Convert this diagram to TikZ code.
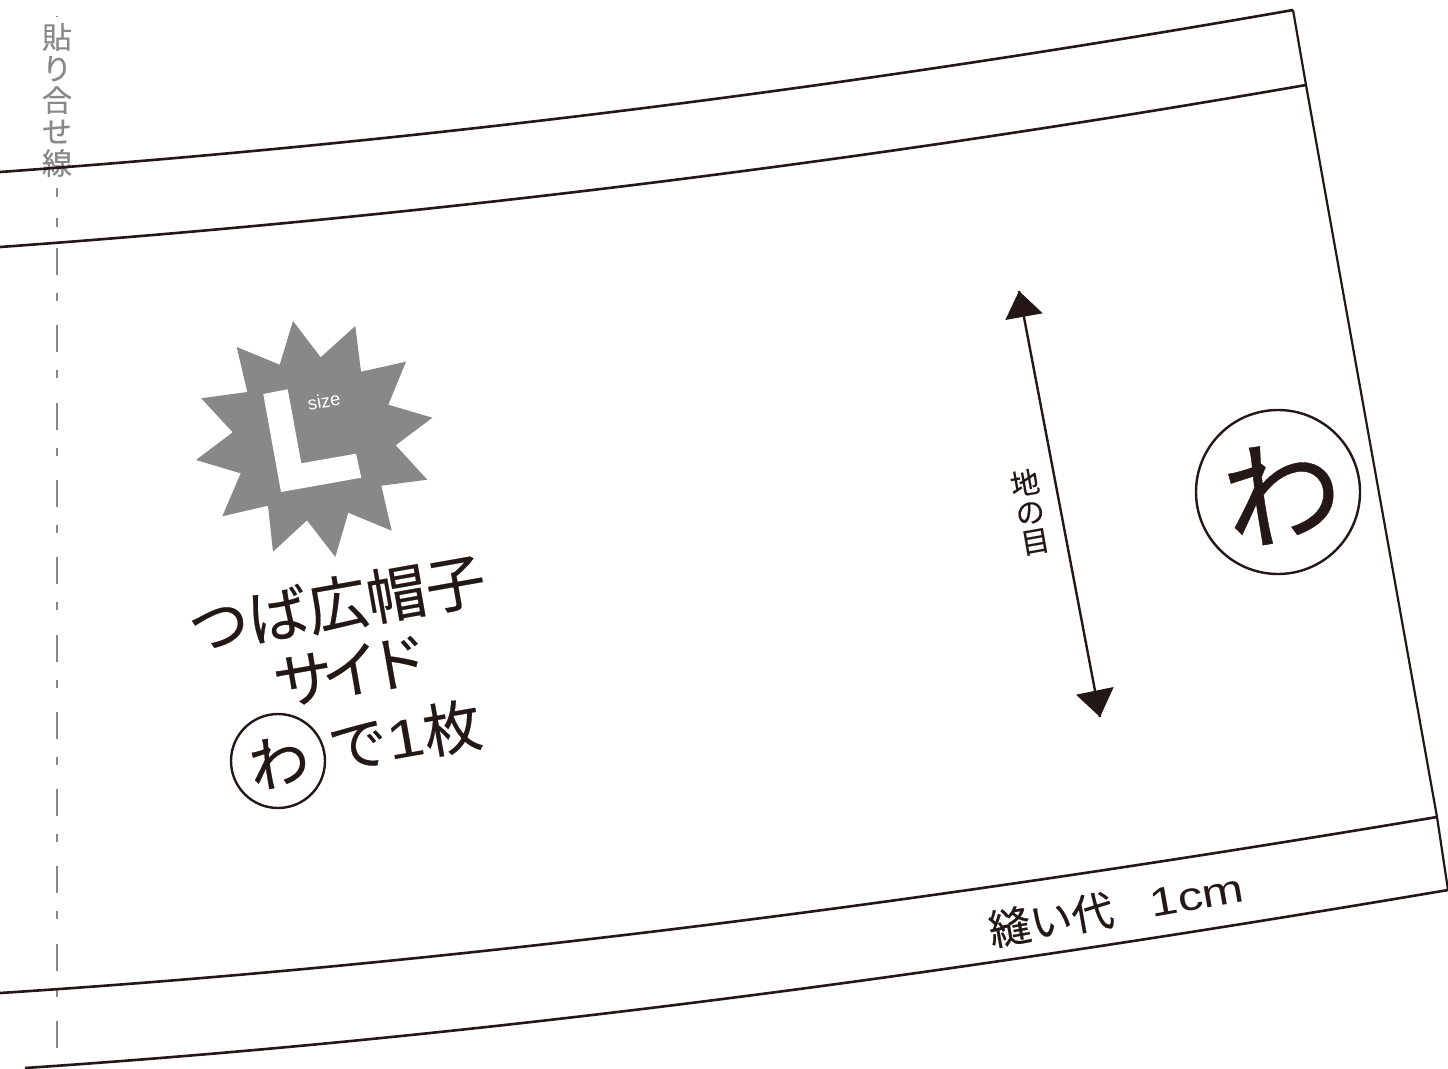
\documentclass[tikz,border=0pt]{standalone}
\usepackage{fontspec}
\setmainfont[FakeBold=0.35]{Noto Sans CJK JP}
\newfontfamily\latinf{Liberation Sans}
\newfontfamily\widef[FakeStretch=1.25]{Liberation Sans}
\definecolor{ink}{HTML}{231815}
\definecolor{guide}{HTML}{888888}
\tikzset{
  outline/.style={draw=ink,line width=2.6pt},
  sideline/.style={draw=ink,line width=2.2pt},
  guideline/.style={draw=guide,line width=2.4pt,dash pattern=on 27pt off 18pt on 8pt off 24.3pt},
  guidepiece/.style={draw=guide,line width=2.4pt},
  jp/.style={text=ink,inner sep=0pt,rotate=10,align=center},
}
\begin{document}
\begin{tikzpicture}[x=1pt,y=-1pt]
\useasboundingbox (0,0) rectangle (1448,1068);
\fill[white] (0,0) rectangle (1448,1068);
% paste line
\coordinate (gtop) at (57,248);
\coordinate (gbot) at (57,1050);
\path[guideline] (gtop) -- (gbot);
\draw[guidepiece] (57,15.5) -- (57,16.5) (57,188) -- (57,197) (57,218) -- (57,226.5);
\node[text=guide,inner sep=0pt,font=\fontsize{30}{31.5}\selectfont,align=center] (paste) at (57,100) {貼\\り\\合\\せ\\線};
% pattern outline
\coordinate (a1) at (0,172);
\coordinate (a2) at (1293,10);
\coordinate (b1) at (0,247);
\coordinate (b2) at (1306,85);
\coordinate (c1) at (0,993);
\coordinate (c2) at (1437,817);
\coordinate (d1) at (25,1068);
\coordinate (d2) at (1448,890);
\draw[outline] (a1) .. controls (430,141) and (860,86) .. (a2);
\draw[outline] (b1) .. controls (430,216) and (870,161) .. (b2);
\draw[outline] (c1) .. controls (480,962) and (960,897) .. (c2);
\draw[outline] (d1) .. controls (500,1036) and (970,971) .. (d2);
\draw[sideline] (a2) -- (b2) -- (c2) -- (d2);
% star
\fill[guide] (293,321) -- (320.7,357.3) -- (355.3,326) -- (361,371.7) -- (406,361.7) -- (388.3,404.7) -- (432.3,417.7) -- (395.7,445.3) -- (427.3,479.7) -- (381.3,485.7) -- (391.7,530.7) -- (348.3,512.7) -- (335.3,557) -- (307,520.3) -- (273,551.7) -- (268,505.7) -- (222.3,516.3) -- (240.7,473.3) -- (196,460) -- (232.7,432.3) -- (201.3,398.3) -- (247.3,392) -- (236.7,347) -- (279.7,364.7) -- cycle;
\fill[white] (263.3,394) -- (287.7,389.3) -- (301.3,463.3) -- (356,453.7) -- (361.3,477.7) -- (281,492) -- cycle;
\node[text=white,inner sep=0pt,rotate=10,font=\latinf\fontsize{18.5}{18.5}\selectfont] (size) at (324,401) {size};
% title
\node[jp,font=\fontsize{60}{60}\selectfont] (t1) at (337,604) {つば広帽子};
\node[jp,font=\fontsize{60}{60}\selectfont] (t2) at (351,671) {サ\hspace{-0.2em}イ\hspace{-0.2em}ド};
\node[jp,font=\fontsize{58}{58}\selectfont] (t3) at (405,736) {で{\widef\fontsize{54}{54}\selectfont 1}枚};
\node[draw=ink,line width=2.4pt,circle,minimum size=94pt,inner sep=0pt] (wa1) at (278,761) {};
\node[jp,font=\fontsize{60}{60}\selectfont] (wa1t) at (279,762) {わ};
% big wa
\node[draw=ink,line width=2.4pt,circle,minimum size=164pt,inner sep=0pt] (wa2) at (1278,492) {};
\node[jp,font=\fontsize{118}{118}\selectfont] (wa2t) at (1282,492) {わ};
% grain arrow
\coordinate (g1) at (1019,291);
\coordinate (g2) at (1100,717);
\draw[ink,line width=2.4pt] (g1) -- (g2);
\fill[ink] (g1) -- (1042.7,313.3) -- (1005.3,320) -- cycle;
\fill[ink] (g2) -- (1076,694.7) -- (1113.7,687) -- cycle;
\node[jp,font=\fontsize{29}{29.5}\selectfont] (grain) at (1030,512) {地\\の\\目};
% seam
\node[jp,font=\fontsize{42}{42}\selectfont] (seam) at (1116,908) {縫い代\hspace{0.9em}{\widef\fontsize{40}{40}\selectfont 1cm}};
\end{tikzpicture}
\end{document}
